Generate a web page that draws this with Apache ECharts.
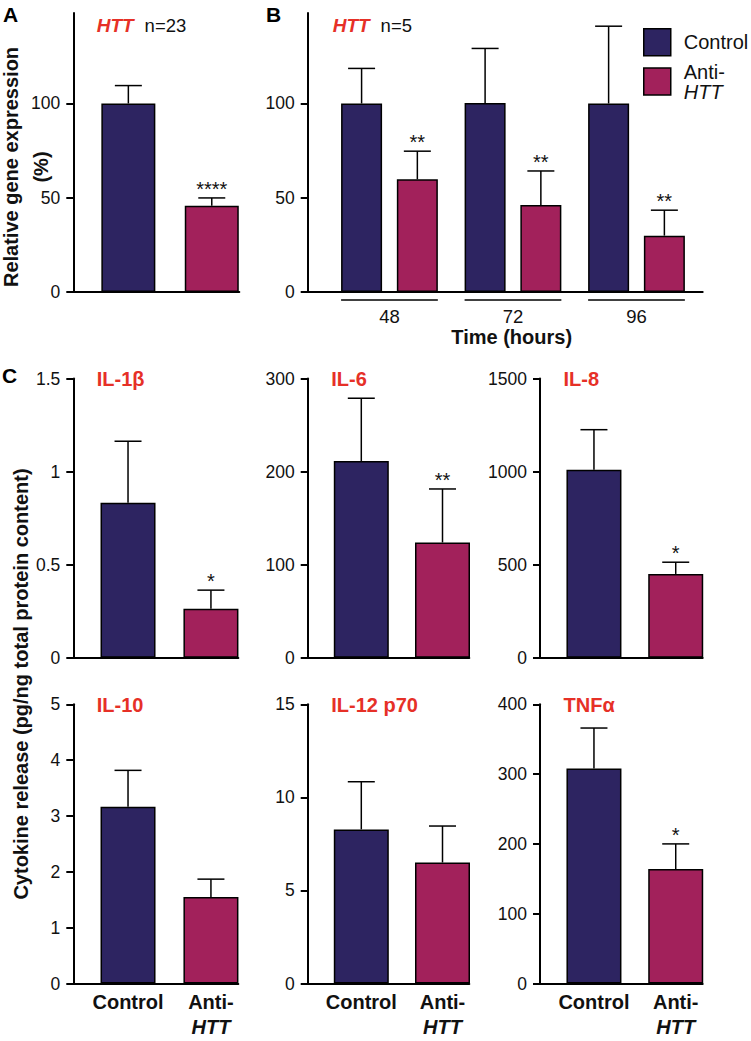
<!DOCTYPE html>
<html>
<head>
<meta charset="utf-8">
<title>HTT knockdown and cytokine release</title>
<script src="https://cdn.jsdelivr.net/npm/echarts@6/dist/echarts.min.js"></script>
<style>
  html, body { margin: 0; padding: 0; background: #fff; }
  #chart { width: 751px; height: 1041px; }
</style>
</head>
<body>
<div id="chart"></div>
<script>
// groups
var groups = ['Control', 'Anti-HTT'];
var groupColors = ['#2d2461', '#a2215b'];

// panel A: HTT expression, n=23 (%)
var httMean = [100, 45.7];
var httSd = [9.5, 4.2];
var httSig = ['', '****'];

// panel B: HTT expression over time, n=5 (%)
var hours = ['48', '72', '96'];
var ctrlMean = [100, 100.3, 100];
var ctrlSd = [18.6, 28.9, 41];
var ctrlSig = ['', '', ''];
var antiMean = [59.8, 46.2, 29.9];
var antiSd = [14.9, 18, 13.5];
var antiSig = ['**', '**', '**'];

// panel C: cytokine release (pg/ng total protein)
var cytokines = ['IL-1β', 'IL-6', 'IL-8', 'IL-10', 'IL-12 p70', 'TNFα'];
var cytoMax = [1.5, 300, 1500, 5, 15, 400];
var cytoStep = [0.5, 100, 500, 1, 5, 100];
var il1bMean = [0.832, 0.263], il1bSd = [0.331, 0.1], il1bSig = ['', '*'];
var il6Mean = [211.4, 123.8], il6Sd = [67.4, 57.5], il6Sig = ['', '**'];
var il8Mean = [1010, 450], il8Sd = [215, 63], il8Sig = ['', '*'];
var il10Mean = [3.165, 1.547], il10Sd = [0.652, 0.322], il10Sig = ['', ''];
var il12Mean = [8.28, 6.5], il12Sd = [2.56, 1.96], il12Sig = ['', ''];
var tnfaMean = [308, 164], tnfaSd = [58, 36], tnfaSig = ['', '*'];
var cytoData = [
  [il1bMean, il1bSd, il1bSig],
  [il6Mean, il6Sd, il6Sig],
  [il8Mean, il8Sd, il8Sig],
  [il10Mean, il10Sd, il10Sig],
  [il12Mean, il12Sd, il12Sig],
  [tnfaMean, tnfaSd, tnfaSig]
];

var font = '"Liberation Sans", Arial, Helvetica, sans-serif';
var red = '#e63027';
var barBorder = { borderColor: '#000', borderWidth: 1.5 };

// bar sizes (px)
var singleBarWidth = 55;
var timeBarWidth = 41;
var timeBarGap = 0.36;
var timeOffset = (timeBarWidth + timeBarWidth * timeBarGap) / 2;

var myChart = echarts.init(document.getElementById('chart'), null, { renderer: 'svg' });

var grids = [];
var xAxes = [];
var yAxes = [];
var series = [];

function yAxisFor(gi, max, step, labelValues) {
  var ax = {
    type: 'value', gridIndex: gi, min: 0, max: max,
    axisLine: { show: true, lineStyle: { color: '#000', width: 2 } },
    axisTick: { show: true, inside: false, length: 7, lineStyle: { color: '#000', width: 2 } },
    axisLabel: {
      color: '#111', fontSize: 17.5, fontFamily: font, margin: 13,
      formatter: function (v) { return String(v); }
    },
    splitLine: { show: false }
  };
  if (labelValues) {
    ax.axisLabel.customValues = labelValues;
    ax.axisTick.customValues = labelValues;
  } else {
    ax.interval = step;
  }
  return ax;
}

function xAxisFor(gi, min, max, label) {
  return {
    type: 'value', gridIndex: gi, min: min, max: max,
    axisLine: { show: true, onZero: false, lineStyle: { color: '#000', width: 2 } },
    axisTick: { show: false },
    splitLine: { show: false },
    axisLabel: label || { show: false }
  };
}

// error bar (upper only) with cap and significance stars
function errorSeries(gi, means, sds, sigs, offsetPx) {
  return {
    type: 'custom', xAxisIndex: gi, yAxisIndex: gi, clip: false, silent: true, z: 3,
    encode: { x: 0, y: [1, 2] },
    data: means.map(function (m, i) { return [i + 1, m, m + sds[i]]; }),
    renderItem: function (params, api) {
      var base = api.coord([api.value(0), api.value(1)]);
      var top = api.coord([api.value(0), api.value(2)]);
      var x = base[0] + offsetPx;
      var children = [
        { type: 'line', shape: { x1: x, y1: base[1], x2: x, y2: top[1] }, style: { stroke: '#000', lineWidth: 1.5 } },
        { type: 'line', shape: { x1: x - 13.5, y1: top[1], x2: x + 13.5, y2: top[1] }, style: { stroke: '#000', lineWidth: 1.5 } }
      ];
      var s = sigs[params.dataIndex];
      if (s) {
        children.push({
          type: 'text',
          style: { text: s, x: x, y: top[1] - 9, align: 'center', verticalAlign: 'middle',
                   fontSize: 20, fontFamily: font, fill: '#111' }
        });
      }
      return { type: 'group', children: children };
    }
  };
}

function coloredBars(means) {
  return means.map(function (m, i) {
    return { value: [i + 1, m], itemStyle: { color: groupColors[i] } };
  });
}

// ---- panel A
grids.push({ left: 73.3, top: 13, width: 166, height: 279 });
xAxes.push(xAxisFor(0, 0.34, 2.33));
yAxes.push(yAxisFor(0, 148, 50, [0, 50, 100]));
series.push({
  type: 'bar', xAxisIndex: 0, yAxisIndex: 0, barWidth: 54, silent: true,
  itemStyle: barBorder, data: coloredBars(httMean)
});
series.push(errorSeries(0, httMean, httSd, httSig, 0));

// ---- panel B
grids.push({ left: 307.7, top: 13, width: 395, height: 279 });
xAxes.push(xAxisFor(1, 0.338, 3.536, {
  show: true, customValues: [1, 2, 3], margin: 15, color: '#111', fontSize: 18.5, fontFamily: font,
  formatter: function (v) { return hours[Math.round(v) - 1]; }
}));
yAxes.push(yAxisFor(1, 148, 50, [0, 50, 100]));
series.push({
  type: 'bar', name: groups[0], xAxisIndex: 1, yAxisIndex: 1, barWidth: timeBarWidth,
  barGap: (timeBarGap * 100) + '%', silent: true,
  itemStyle: { color: groupColors[0], borderColor: '#000', borderWidth: 1.5 },
  data: ctrlMean.map(function (m, i) { return [i + 1, m]; })
});
series.push({
  type: 'bar', name: groups[1], xAxisIndex: 1, yAxisIndex: 1, barWidth: timeBarWidth,
  barGap: (timeBarGap * 100) + '%', silent: true,
  itemStyle: { color: groupColors[1], borderColor: '#000', borderWidth: 1.5 },
  data: antiMean.map(function (m, i) { return [i + 1, m]; })
});
series.push(errorSeries(1, ctrlMean, ctrlSd, ctrlSig, -timeOffset));
series.push(errorSeries(1, antiMean, antiSd, antiSig, timeOffset));
// group underlines below the time axis
series.push({
  type: 'custom', xAxisIndex: 1, yAxisIndex: 1, clip: false, silent: true,
  data: hours.map(function (h, i) { return [i + 1, 0]; }),
  renderItem: function (params, api) {
    var p = api.coord([api.value(0), 0]);
    var half = timeBarWidth + timeBarWidth * timeBarGap / 2;
    return { type: 'line', shape: { x1: p[0] - half, y1: p[1] + 8, x2: p[0] + half, y2: p[1] + 8 },
             style: { stroke: '#000', lineWidth: 1.5 } };
  }
});

// ---- panel C
var colLeft = [73.3, 307.7, 540];
var colWidth = [165, 161.6, 162.7];
var rowTop = [378.5, 704.3];
var rowHeight = 279.2;
var titles = [];

cytokines.forEach(function (name, k) {
  var gi = 2 + k;
  var col = k % 3, row = Math.floor(k / 3);
  grids.push({ left: colLeft[col], top: rowTop[row], width: colWidth[col], height: rowHeight });
  var label = row === 1 ? {
    show: true, customValues: [1, 2], margin: 6, verticalAlign: 'top',
    formatter: function (v) {
      return Math.round(v) === 1 ? '{b|' + groups[0] + '}' : '{b|Anti-}\n{bi|HTT}';
    },
    rich: {
      b: { fontSize: 20, fontWeight: 'bold', fontFamily: font, color: '#111', lineHeight: 25 },
      bi: { fontSize: 20, fontWeight: 'bold', fontStyle: 'italic', fontFamily: font, color: '#111', lineHeight: 25 }
    }
  } : null;
  xAxes.push(xAxisFor(gi, 0.34, 2.33, label));
  yAxes.push(yAxisFor(gi, cytoMax[k], cytoStep[k]));
  var d = cytoData[k];
  series.push({
    type: 'bar', xAxisIndex: gi, yAxisIndex: gi, barWidth: singleBarWidth, silent: true,
    itemStyle: barBorder, data: coloredBars(d[0])
  });
  series.push(errorSeries(gi, d[0], d[1], d[2], 0));
  titles.push({
    text: name, left: colLeft[col] + 23.5, top: rowTop[row] - 9.5, padding: 0,
    textStyle: { color: red, fontSize: 20, fontWeight: 'bold', fontFamily: font }
  });
});

// headings for A and B
var httRich = {
  i: { color: red, fontSize: 19, fontWeight: 'bold', fontStyle: 'italic', fontFamily: font },
  n: { color: '#111', fontSize: 18.5, fontWeight: 'normal', fontFamily: font, padding: [0, 0, 0, 11] }
};
titles.push({ text: '{i|HTT}{n|n=23}', left: 96.7, top: 16, padding: 0, textStyle: { fontWeight: 'normal', rich: httRich } });
titles.push({ text: '{i|HTT}{n|n=5}', left: 332.7, top: 16, padding: 0, textStyle: { fontWeight: 'normal', rich: httRich } });

var letterStyle = { fontSize: 21, fontWeight: 'bold', fontFamily: font, fill: '#000' };

var option = {
  animation: false,
  backgroundColor: '#fff',
  title: titles,
  grid: grids.map(function (g) { g.outerBoundsMode = 'none'; return g; }),
  xAxis: xAxes,
  yAxis: yAxes,
  legend: {
    data: groups, left: 643, top: 28, orient: 'vertical', padding: 0,
    itemWidth: 27, itemHeight: 27, itemGap: 5, icon: 'rect', selectedMode: false,
    itemStyle: { borderColor: '#000', borderWidth: 1.5 },
    formatter: function (name) {
      return name === groups[1] ? '{t|Anti-}\n{ti|HTT}' : '{t|' + name + '}';
    },
    textStyle: {
      rich: {
        t: { fontSize: 20, fontFamily: font, color: '#111', lineHeight: 20, padding: [0, 0, 0, 8] },
        ti: { fontSize: 20, fontFamily: font, fontStyle: 'italic', color: '#111', lineHeight: 20, padding: [0, 0, 0, 8] }
      }
    }
  },
  graphic: [
    { type: 'text', left: 3, top: 4, style: Object.assign({ text: 'A' }, letterStyle) },
    { type: 'text', left: 266, top: 4, style: Object.assign({ text: 'B' }, letterStyle) },
    { type: 'text', left: 2, top: 365, style: Object.assign({ text: 'C' }, letterStyle) },
    {
      type: 'text', x: 26, y: 167, rotation: Math.PI / 2,
      style: { text: 'Relative gene expression\n(%)', align: 'center', verticalAlign: 'middle',
               fontSize: 20, fontWeight: 'bold', fontFamily: font, fill: '#111', lineHeight: 30 }
    },
    {
      type: 'text', x: 20.5, y: 684, rotation: Math.PI / 2,
      style: { text: 'Cytokine release (pg/ng total protein content)', align: 'center', verticalAlign: 'middle',
               fontSize: 20, fontWeight: 'bold', fontFamily: font, fill: '#111' }
    },
    {
      type: 'text', x: 511.7, y: 337.3,
      style: { text: 'Time (hours)', align: 'center', verticalAlign: 'middle',
               fontSize: 20, fontWeight: 'bold', fontFamily: font, fill: '#111' }
    }
  ],
  series: series
};

myChart.setOption(option);
</script>
</body>
</html>
